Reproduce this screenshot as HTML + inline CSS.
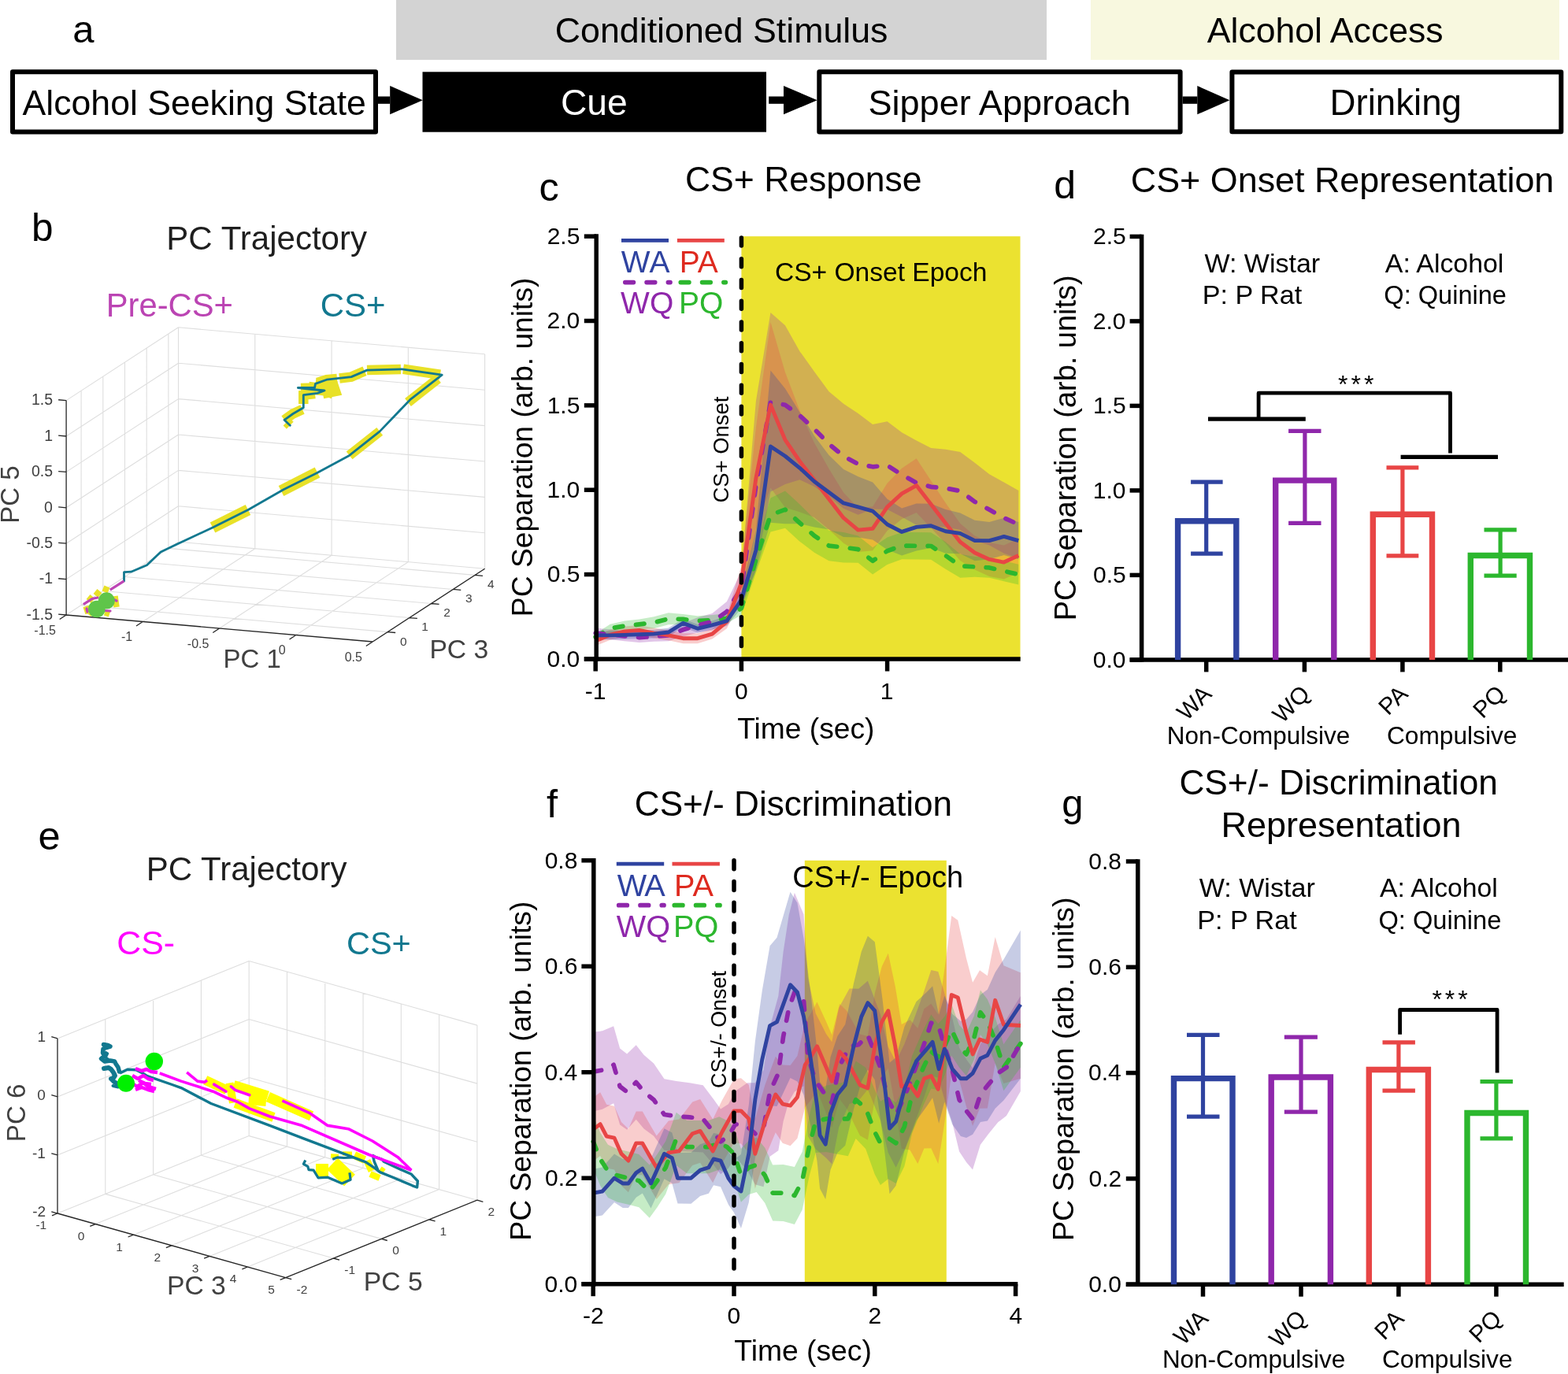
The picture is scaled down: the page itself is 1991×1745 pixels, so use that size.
<!DOCTYPE html>
<html><head><meta charset="utf-8"><title>Figure</title>
<style>html,body{margin:0;padding:0;background:#fff;overflow:hidden}svg{display:block}text{font-family:'Liberation Sans', Arial, Helvetica, sans-serif}</style>
</head><body>
<svg width="1991" height="1745" viewBox="0 0 1991 1745">
<rect width="1991" height="1745" fill="#fff"/>
<text x="92.34" y="54.3" font-size="49" fill="#000" >a</text>
<rect x="503" y="0" width="826" height="76" fill="#d3d3d3" />
<rect x="1385" y="0" width="595" height="76" fill="#f8f8df" />
<text x="704.76" y="54" font-size="44.74" fill="#000" >Conditioned Stimulus</text>
<text x="1532.8" y="54.2" font-size="44.57" fill="#000" >Alcohol Access</text>
<rect x="16" y="91.2" width="461" height="76.2" fill="#fff" stroke="#000" stroke-width="6" stroke-linejoin="round"/>
<text x="28.6" y="146" font-size="44.6" fill="#000" >Alcohol Seeking State</text>
<rect x="480" y="122.5" width="15.2" height="9.3" fill="#000" />
<polygon points="495.2,109.1 536.8,127.2 495.2,145.3" fill="#000" />
<rect x="536.5" y="91.3" width="436.5" height="76.4" fill="#000" />
<text x="711.89" y="145.7" font-size="46.21" fill="#fff" >Cue</text>
<rect x="976.2" y="122.5" width="18.8" height="9.3" fill="#000" />
<polygon points="995,109.1 1037.7,127.2 995,145.3" fill="#000" />
<rect x="1040.3" y="91.2" width="458.3" height="76.2" fill="#fff" stroke="#000" stroke-width="6" stroke-linejoin="round"/>
<text x="1102.47" y="145.7" font-size="45.09" fill="#000" >Sipper Approach</text>
<rect x="1501.6" y="122.5" width="18.7" height="9.3" fill="#000" />
<polygon points="1520.3,109.1 1561.4,127.2 1520.3,145.3" fill="#000" />
<rect x="1564.4" y="91.4" width="417.9" height="75.9" fill="#fff" stroke="#000" stroke-width="6" stroke-linejoin="round"/>
<text x="1688.55" y="145.7" font-size="45.65" fill="#000" >Drinking</text>
<rect x="941.4" y="300.15" width="354.1" height="536.75" fill="#ebe230" />
<path d="M756.2,797.61 L774.72,799.33 L793.24,801.47 L811.76,803.19 L830.28,801.9 L848.8,799.33 L867.32,791.17 L885.84,784.3 L904.36,778.93 L922.88,763.9 L941.4,725.26 L959.92,509.27 L978.44,396.98 L996.96,413.3 L1015.48,446.15 L1034,471.91 L1052.52,497.24 L1071.04,512.7 L1089.56,524.94 L1108.08,539.11 L1126.6,535.25 L1145.12,549.2 L1163.64,559.51 L1182.16,568.95 L1200.68,570.67 L1219.2,574.11 L1237.72,587.85 L1256.24,602.23 L1274.76,612.54 L1293.28,623.06 L1293.28,708.94 L1274.76,702.71 L1256.24,692.41 L1237.72,686.61 L1219.2,672.87 L1200.68,669.43 L1182.16,667.72 L1163.64,666.86 L1145.12,656.55 L1126.6,646.89 L1108.08,646.46 L1089.56,653.76 L1071.04,645.82 L1052.52,630.36 L1034,617.91 L1015.48,609.32 L996.96,615.11 L978.44,624.56 L959.92,723.97 L941.4,768.2 L922.88,789.67 L904.36,800.4 L885.84,803.62 L867.32,808.34 L848.8,814.36 L830.28,814.79 L811.76,816.07 L793.24,814.36 L774.72,812.21 L756.2,810.49 Z" fill="#8f27ab" fill-opacity="0.27"/>
<path d="M756.2,807.49 L774.72,799.76 L793.24,795.46 L811.76,793.96 L830.28,797.61 L848.8,800.4 L867.32,804.27 L885.84,804.27 L904.36,798.68 L922.88,781.08 L941.4,718.81 L959.92,542.76 L978.44,409 L996.96,472.77 L1015.48,521.51 L1034,562.51 L1052.52,595.15 L1071.04,625.42 L1089.56,645.17 L1108.08,643.46 L1126.6,613.83 L1145.12,594.72 L1163.64,582.27 L1182.16,610.39 L1200.68,638.73 L1219.2,664.71 L1237.72,680.6 L1256.24,688.97 L1274.76,692.62 L1293.28,684.03 L1293.28,726.97 L1274.76,735.56 L1256.24,731.91 L1237.72,723.54 L1219.2,711.94 L1200.68,690.26 L1182.16,670.51 L1163.64,650.97 L1145.12,659.13 L1126.6,673.94 L1108.08,699.28 L1089.56,700.99 L1071.04,689.83 L1052.52,672.44 L1034,656.98 L1015.48,650.33 L996.96,644.53 L978.44,619.41 L959.92,671.58 L941.4,761.75 L922.88,798.25 L904.36,811.57 L885.84,817.15 L867.32,817.15 L848.8,813.28 L830.28,810.49 L811.76,806.84 L793.24,808.34 L774.72,812.64 L756.2,820.37 Z" fill="#e84545" fill-opacity="0.27"/>
<path d="M756.2,801.47 L774.72,801.47 L793.24,801.05 L811.76,800.4 L830.28,799.76 L848.8,797.61 L867.32,786.02 L885.84,792.89 L904.36,788.59 L922.88,782.15 L941.4,751.02 L959.92,672.87 L978.44,470.41 L996.96,493.38 L1015.48,523.44 L1034,553.5 L1052.52,577.97 L1071.04,596.01 L1089.56,605.24 L1108.08,612.54 L1126.6,633.79 L1145.12,645.39 L1163.64,639.38 L1182.16,639.81 L1200.68,646.89 L1219.2,651.61 L1237.72,660.85 L1256.24,662.99 L1274.76,657.84 L1293.28,662.99 L1293.28,710.23 L1274.76,705.07 L1256.24,710.23 L1237.72,712.37 L1219.2,703.14 L1200.68,702.71 L1182.16,695.63 L1163.64,699.49 L1145.12,705.5 L1126.6,698.2 L1108.08,685.54 L1089.56,682.53 L1071.04,681.89 L1052.52,672.44 L1034,669.43 L1015.48,665.14 L996.96,665.14 L978.44,663.64 L959.92,724.4 L941.4,772.49 L922.88,795.03 L904.36,799.33 L885.84,803.62 L867.32,796.75 L848.8,808.34 L830.28,810.49 L811.76,811.14 L793.24,811.78 L774.72,812.21 L756.2,812.21 Z" fill="#2f43a0" fill-opacity="0.27"/>
<path d="M756.2,804.69 L774.72,792.67 L793.24,788.59 L811.76,786.45 L830.28,783.23 L848.8,778.29 L867.32,780 L885.84,782.15 L904.36,781.08 L922.88,778.93 L941.4,763.9 L959.92,693.05 L978.44,632.51 L996.96,623.49 L1015.48,640.45 L1034,658.91 L1052.52,673.73 L1071.04,675.88 L1089.56,680.38 L1108.08,695.2 L1126.6,682.53 L1145.12,675.88 L1163.64,676.09 L1182.16,676.3 L1200.68,688.33 L1219.2,703.79 L1237.72,707.01 L1256.24,708.08 L1274.76,712.37 L1293.28,716.67 L1293.28,742.43 L1274.76,738.14 L1256.24,733.84 L1237.72,732.77 L1219.2,733.84 L1200.68,722.68 L1182.16,710.66 L1163.64,710.44 L1145.12,710.23 L1126.6,716.88 L1108.08,729.55 L1089.56,714.74 L1071.04,714.52 L1052.52,712.37 L1034,701.85 L1015.48,687.68 L996.96,670.72 L978.44,675.45 L959.92,727.4 L941.4,781.08 L922.88,791.81 L904.36,793.96 L885.84,795.03 L867.32,792.89 L848.8,793.32 L830.28,798.25 L811.76,799.33 L793.24,801.47 L774.72,803.41 L756.2,813.28 Z" fill="#2cb72e" fill-opacity="0.27"/>
<polyline points="756.2,808.99 774.72,798.04 793.24,795.03 811.76,792.89 830.28,790.74 848.8,785.8 867.32,786.45 885.84,788.59 904.36,787.52 922.88,785.37 941.4,772.49 959.92,710.23 978.44,653.98 996.96,647.11 1015.48,664.07 1034,680.38 1052.52,693.05 1071.04,695.2 1089.56,697.56 1108.08,712.37 1126.6,699.71 1145.12,693.05 1163.64,693.27 1182.16,693.48 1200.68,705.5 1219.2,718.81 1237.72,719.89 1256.24,720.96 1274.76,725.26 1293.28,729.55" fill="none" stroke="#2cb72e" stroke-width="5.7" stroke-linejoin="round" stroke-dasharray="10.6 16.7" stroke-linecap="round"/>
<polyline points="756.2,804.05 774.72,805.77 793.24,807.92 811.76,809.63 830.28,808.34 848.8,806.84 867.32,799.76 885.84,793.96 904.36,789.67 922.88,776.78 941.4,746.73 959.92,616.62 978.44,510.77 996.96,514.21 1015.48,527.73 1034,544.91 1052.52,563.8 1071.04,579.26 1089.56,589.35 1108.08,592.79 1126.6,591.07 1145.12,602.88 1163.64,613.18 1182.16,618.34 1200.68,620.05 1219.2,623.49 1237.72,637.23 1256.24,647.32 1274.76,657.63 1293.28,666" fill="none" stroke="#8f27ab" stroke-width="5.7" stroke-linejoin="round" stroke-dasharray="10.6 16.7" stroke-linecap="round"/>
<polyline points="756.2,813.93 774.72,806.2 793.24,801.9 811.76,800.4 830.28,804.05 848.8,806.84 867.32,810.71 885.84,810.71 904.36,805.12 922.88,789.67 941.4,740.28 959.92,607.17 978.44,514.21 996.96,558.65 1015.48,585.92 1034,609.75 1052.52,633.79 1071.04,657.63 1089.56,673.08 1108.08,671.37 1126.6,643.88 1145.12,626.92 1163.64,616.62 1182.16,640.45 1200.68,664.5 1219.2,688.33 1237.72,702.07 1256.24,710.44 1274.76,714.09 1293.28,705.5" fill="none" stroke="#e84545" stroke-width="4.9" stroke-linejoin="round"/>
<polyline points="756.2,806.84 774.72,806.84 793.24,806.41 811.76,805.77 830.28,805.12 848.8,802.98 867.32,791.38 885.84,798.25 904.36,793.96 922.88,788.59 941.4,761.75 959.92,698.63 978.44,567.02 996.96,579.26 1015.48,594.29 1034,611.46 1052.52,625.21 1071.04,638.95 1089.56,643.88 1108.08,649.04 1126.6,666 1145.12,675.45 1163.64,669.43 1182.16,667.72 1200.68,674.8 1219.2,677.38 1237.72,686.61 1256.24,686.61 1274.76,681.46 1293.28,686.61" fill="none" stroke="#2f43a0" stroke-width="4.9" stroke-linejoin="round"/>
<line x1="941.4" y1="302.05" x2="941.4" y2="823" stroke="#000" stroke-width="5.5" stroke-dasharray="9.9 16.86" stroke-linecap="round"/>
<line x1="757.2" y1="297.3" x2="757.2" y2="839.6" stroke="#000" stroke-width="5.5" />
<line x1="741.8" y1="836.9" x2="1295.7" y2="836.9" stroke="#000" stroke-width="5.5" />
<line x1="741.8" y1="836.9" x2="757.2" y2="836.9" stroke="#000" stroke-width="5.5" />
<text x="694.55" y="846.7" font-size="30" fill="#000" >0.0</text>
<line x1="741.8" y1="729.55" x2="757.2" y2="729.55" stroke="#000" stroke-width="5.5" />
<text x="694.7" y="739.35" font-size="30" fill="#000" >0.5</text>
<line x1="741.8" y1="622.2" x2="757.2" y2="622.2" stroke="#000" stroke-width="5.5" />
<text x="694.55" y="632" font-size="30" fill="#000" >1.0</text>
<line x1="741.8" y1="514.85" x2="757.2" y2="514.85" stroke="#000" stroke-width="5.5" />
<text x="694.7" y="524.65" font-size="30" fill="#000" >1.5</text>
<line x1="741.8" y1="407.5" x2="757.2" y2="407.5" stroke="#000" stroke-width="5.5" />
<text x="694.55" y="417.3" font-size="30" fill="#000" >2.0</text>
<line x1="741.8" y1="300.15" x2="757.2" y2="300.15" stroke="#000" stroke-width="5.5" />
<text x="694.7" y="309.95" font-size="30" fill="#000" >2.5</text>
<line x1="756.2" y1="836.9" x2="756.2" y2="852.5" stroke="#000" stroke-width="5.5" />
<text x="742.85" y="888" font-size="30" fill="#000" >-1</text>
<line x1="941.4" y1="836.9" x2="941.4" y2="852.5" stroke="#000" stroke-width="5.5" />
<text x="933" y="888" font-size="30" fill="#000" >0</text>
<line x1="1126.6" y1="836.9" x2="1126.6" y2="852.5" stroke="#000" stroke-width="5.5" />
<text x="1117.82" y="888" font-size="30" fill="#000" >1</text>
<text x="936.26" y="937.5" font-size="37.17" fill="#000" >Time (sec)</text>
<text transform="translate(676,783.18) rotate(-90)" x="0" y="0" font-size="37.25" fill="#000">PC Separation (arb. units)</text>
<text transform="translate(925.2,638.47) rotate(-90)" x="0" y="0" font-size="27.41" fill="#000">CS+ Onset</text>
<text x="684.58" y="255" font-size="50.5" fill="#000" >c</text>
<text x="869.97" y="243" font-size="44.52" fill="#000" >CS+ Response</text>
<text x="983.92" y="356.7" font-size="33.57" fill="#000" >CS+ Onset Epoch</text>
<line x1="789" y1="305.4" x2="849" y2="305.4" stroke="#2f43a0" stroke-width="4.9" />
<line x1="859.9" y1="305.4" x2="919.8" y2="305.4" stroke="#e84545" stroke-width="4.9" />
<line x1="793.8" y1="358.6" x2="851" y2="358.6" stroke="#8f27ab" stroke-width="5.7" stroke-dasharray="10.6 16.7" stroke-linecap="round"/>
<line x1="864.3" y1="358.6" x2="921.3" y2="358.6" stroke="#2cb72e" stroke-width="5.7" stroke-dasharray="10.6 16.7" stroke-linecap="round"/>
<text x="862.78" y="345.8" font-size="38.98" fill="#de2a1f" >PA</text>
<text x="788.81" y="345.8" font-size="38.98" fill="#2f43a0" letter-spacing="0.49">WA</text>
<text x="788.11" y="398.1" font-size="38.98" fill="#8f27ab" >WQ</text>
<text x="862.08" y="398.1" font-size="38.98" fill="#2cb72e" >PQ</text>
<text x="1338.2" y="252.2" font-size="50" fill="#000" >d</text>
<text x="1435.76" y="243.9" font-size="44.88" fill="#000" >CS+ Onset Representation</text>
<line x1="1449.6" y1="297.7" x2="1449.6" y2="840.6" stroke="#000" stroke-width="5.5" />
<line x1="1434.6" y1="837.9" x2="1991" y2="837.9" stroke="#000" stroke-width="5.5" />
<line x1="1434.6" y1="837.9" x2="1449.6" y2="837.9" stroke="#000" stroke-width="5.5" />
<text x="1387.85" y="847.7" font-size="30" fill="#000" >0.0</text>
<line x1="1434.6" y1="730.4" x2="1449.6" y2="730.4" stroke="#000" stroke-width="5.5" />
<text x="1388" y="740.2" font-size="30" fill="#000" >0.5</text>
<line x1="1434.6" y1="622.9" x2="1449.6" y2="622.9" stroke="#000" stroke-width="5.5" />
<text x="1387.85" y="632.7" font-size="30" fill="#000" >1.0</text>
<line x1="1434.6" y1="515.4" x2="1449.6" y2="515.4" stroke="#000" stroke-width="5.5" />
<text x="1388" y="525.2" font-size="30" fill="#000" >1.5</text>
<line x1="1434.6" y1="407.9" x2="1449.6" y2="407.9" stroke="#000" stroke-width="5.5" />
<text x="1387.85" y="417.7" font-size="30" fill="#000" >2.0</text>
<line x1="1434.6" y1="300.4" x2="1449.6" y2="300.4" stroke="#000" stroke-width="5.5" />
<text x="1388" y="310.2" font-size="30" fill="#000" >2.5</text>
<line x1="1531.7" y1="837.9" x2="1531.7" y2="853.4" stroke="#000" stroke-width="5.5" />
<line x1="1656.4" y1="837.9" x2="1656.4" y2="853.4" stroke="#000" stroke-width="5.5" />
<line x1="1780.9" y1="837.9" x2="1780.9" y2="853.4" stroke="#000" stroke-width="5.5" />
<line x1="1904.8" y1="837.9" x2="1904.8" y2="853.4" stroke="#000" stroke-width="5.5" />
<path d="M1495.6,837.9 V661.7 H1569.8 V837.9" fill="none" stroke="#2f43a0" stroke-width="7.4" stroke-linejoin="miter"/>
<path d="M1619.7,837.9 V610.1 H1693.8 V837.9" fill="none" stroke="#8f27ab" stroke-width="7.4" stroke-linejoin="miter"/>
<path d="M1743.3,837.9 V653.2 H1818.5 V837.9" fill="none" stroke="#e84545" stroke-width="7.4" stroke-linejoin="miter"/>
<path d="M1867.3,837.9 V705.5 H1942.5 V837.9" fill="none" stroke="#2cb72e" stroke-width="7.4" stroke-linejoin="miter"/>
<line x1="1531.7" y1="612.1" x2="1531.7" y2="703.1" stroke="#2f43a0" stroke-width="5.2" />
<line x1="1512.1" y1="612.1" x2="1552.6" y2="612.1" stroke="#2f43a0" stroke-width="5.2" />
<line x1="1512.1" y1="703.1" x2="1552.6" y2="703.1" stroke="#2f43a0" stroke-width="5.2" />
<line x1="1656.9" y1="547.4" x2="1656.9" y2="664.4" stroke="#8f27ab" stroke-width="5.2" />
<line x1="1636.1" y1="547.4" x2="1677.5" y2="547.4" stroke="#8f27ab" stroke-width="5.2" />
<line x1="1636.1" y1="664.4" x2="1677.5" y2="664.4" stroke="#8f27ab" stroke-width="5.2" />
<line x1="1780.9" y1="593.9" x2="1780.9" y2="705.8" stroke="#e84545" stroke-width="5.2" />
<line x1="1760.5" y1="593.9" x2="1801.3" y2="593.9" stroke="#e84545" stroke-width="5.2" />
<line x1="1760.5" y1="705.8" x2="1801.3" y2="705.8" stroke="#e84545" stroke-width="5.2" />
<line x1="1905.1" y1="672.8" x2="1905.1" y2="731.1" stroke="#2cb72e" stroke-width="5.2" />
<line x1="1884.5" y1="672.8" x2="1925.7" y2="672.8" stroke="#2cb72e" stroke-width="5.2" />
<line x1="1884.5" y1="731.1" x2="1925.7" y2="731.1" stroke="#2cb72e" stroke-width="5.2" />
<text transform="translate(1540.2,883.1) rotate(-45)" x="0" y="0" font-size="30" text-anchor="end">WA</text>
<text transform="translate(1664.9,883.1) rotate(-45)" x="0" y="0" font-size="30" text-anchor="end">WQ</text>
<text transform="translate(1789.4,883.1) rotate(-45)" x="0" y="0" font-size="30" text-anchor="end">PA</text>
<text transform="translate(1913.3,883.1) rotate(-45)" x="0" y="0" font-size="30" text-anchor="end">PQ</text>
<path d="M1598.1,530 V499.2 H1841.5 V575.5" fill="none" stroke="#000" stroke-width="4.8" stroke-linejoin="round"/>
<line x1="1534" y1="532.2" x2="1657.8" y2="532.2" stroke="#000" stroke-width="5.2" />
<line x1="1778.6" y1="580.4" x2="1902" y2="580.4" stroke="#000" stroke-width="5.2" />
<text x="1699.02" y="499" font-size="32" letter-spacing="4">***</text>
<text x="1529.43" y="345.7" font-size="34.03" fill="#000" >W: Wistar</text>
<text x="1526.87" y="385.5" font-size="34.09" fill="#000" >P: P Rat</text>
<text x="1758.8" y="345.7" font-size="33.86" fill="#000" >A: Alcohol</text>
<text x="1757.33" y="385.5" font-size="32.56" fill="#000" >Q: Quinine</text>
<text x="1481.78" y="944.6" font-size="31.44" fill="#000" >Non-Compulsive</text>
<text x="1760.92" y="944.6" font-size="31.68" fill="#000" >Compulsive</text>
<text transform="translate(1366.4,788.24) rotate(-90)" x="0" y="0" font-size="37.98" fill="#000">PC Separation (arb. units)</text>
<rect x="1021.8" y="1092.78" width="180" height="537.92" fill="#ebe230" />
<path d="M753.2,1310.64 L764.82,1309.28 L779.13,1303.36 L787.17,1331.38 L796.11,1338.61 L807.73,1327.16 L817.57,1339.82 L830.08,1350.61 L843.49,1370.2 L858.69,1373.07 L875.68,1375.37 L892.66,1378.35 L906.07,1395.91 L915.01,1408.52 L924.85,1402.35 L933.79,1385.68 L948.99,1375.32 L958.82,1375.19 L969.55,1358.78 L977.59,1304.59 L988.32,1264.91 L994.58,1209.11 L1001.73,1162.04 L1008.88,1133.8 L1020.51,1161.36 L1025.87,1241.38 L1035.7,1287.1 L1049.11,1313.16 L1056.27,1323.25 L1065.21,1279.88 L1078.62,1255.5 L1090.24,1255.67 L1101.86,1245.75 L1117.95,1288.45 L1127.79,1329.46 L1137.62,1348.29 L1148.35,1326.1 L1159.97,1295.84 L1172.49,1261.55 L1182.32,1231.97 L1191.26,1233.98 L1199.31,1261.55 L1209.14,1292.48 L1218.08,1330.81 L1227.02,1345.6 L1235.07,1356.29 L1244.9,1326.1 L1255.63,1313.46 L1267.25,1300.89 L1277.98,1294.3 L1295.86,1264.91 L1295.86,1385.95 L1277.98,1417.08 L1267.25,1425.28 L1255.63,1439.6 L1244.9,1453.86 L1235.07,1485.53 L1227.02,1476.05 L1218.08,1462.6 L1209.14,1425.62 L1199.31,1396.03 L1191.26,1368.46 L1182.32,1366.45 L1172.49,1396.03 L1159.97,1430.32 L1148.35,1460.58 L1137.62,1482.77 L1127.79,1463.94 L1117.95,1422.93 L1101.86,1383.59 L1090.24,1397.88 L1078.62,1402.08 L1065.21,1431.5 L1056.27,1478.23 L1049.11,1470.84 L1035.7,1459.24 L1025.87,1443.1 L1020.51,1379.22 L1008.88,1386.62 L1001.73,1398.72 L994.58,1424.27 L988.32,1461.26 L977.59,1468.65 L969.55,1507.25 L958.82,1504.29 L948.99,1486.67 L933.79,1469.59 L924.85,1483.85 L915.01,1491.13 L906.07,1479.53 L892.66,1463.47 L875.68,1462.42 L858.69,1462.03 L843.49,1460.87 L830.08,1442.8 L817.57,1433.42 L807.73,1421.87 L796.11,1434.63 L787.17,1428.41 L779.13,1401.29 L764.82,1408.82 L753.2,1411.5 Z" fill="#8f27ab" fill-opacity="0.27"/>
<path d="M753.2,1394.02 L762.14,1387.29 L770.19,1402.76 L780.02,1404.77 L788.96,1424.95 L797.9,1433.69 L807.73,1411.5 L815.78,1411.5 L826.51,1430.32 L833.66,1442.43 L848.86,1423.6 L862.27,1421.58 L879.25,1399.39 L889.09,1396.03 L905.18,1421.58 L916.8,1397.38 L932,1370.48 L940.94,1369.14 L950.77,1377.74 L958.82,1420.91 L971.34,1378.01 L984.75,1341.7 L993.69,1352.46 L1003.52,1353 L1012.46,1340.9 L1022.29,1298.4 L1029.45,1287.24 L1037.49,1272.58 L1049.11,1297.73 L1056.27,1314.13 L1066.1,1275 L1075.04,1283.74 L1083.98,1299.88 L1092.03,1313.46 L1101.86,1316.02 L1110.8,1261.55 L1119.74,1227.57 L1127.79,1210.69 L1136.73,1252.69 L1144.77,1301.04 L1155.5,1295.36 L1165.33,1306.11 L1173.38,1281.17 L1182.32,1274.76 L1191.26,1288.51 L1199.31,1231.29 L1208.25,1163.02 L1216.29,1168.76 L1227.02,1217.17 L1235.07,1247.77 L1244.01,1232.3 L1253.84,1239.36 L1263.67,1190.05 L1274.4,1226.36 L1295.86,1235.33 L1295.86,1369.81 L1274.4,1376.08 L1263.67,1350.53 L1253.84,1407.46 L1244.01,1407.8 L1235.07,1429.99 L1227.02,1405.45 L1216.29,1365.1 L1208.25,1364.12 L1199.31,1426.29 L1191.26,1478 L1182.32,1458.14 L1173.38,1458.44 L1165.33,1477.88 L1155.5,1460.4 L1144.77,1458.75 L1136.73,1404.9 L1127.79,1356.79 L1119.74,1368.16 L1110.8,1396.03 L1101.86,1447.81 L1092.03,1442.29 L1083.98,1426.29 L1075.04,1407.46 L1066.1,1396.03 L1056.27,1432.21 L1049.11,1413.65 L1037.49,1385.01 L1029.45,1397.24 L1022.29,1406.25 L1012.46,1445.79 L1003.52,1455.2 L993.69,1451.71 L984.75,1438.26 L971.34,1470.53 L958.82,1509.67 L950.77,1464.08 L940.94,1452.51 L932,1451.17 L916.8,1478.07 L905.18,1502.27 L889.09,1476.72 L879.25,1480.08 L862.27,1502.27 L848.86,1504.29 L833.66,1523.12 L826.51,1511.01 L815.78,1492.19 L807.73,1492.19 L797.9,1514.37 L788.96,1505.63 L780.02,1485.46 L770.19,1483.44 L762.14,1467.98 L753.2,1474.7 Z" fill="#e84545" fill-opacity="0.27"/>
<path d="M753.2,1484.79 L764.82,1482.55 L780.02,1465.46 L790.75,1471.98 L797.9,1471.85 L807.73,1458.21 L815.78,1452.68 L826.51,1471.31 L843.49,1433.33 L853.33,1438.53 L860.48,1463.94 L877.47,1463.63 L889.09,1453.32 L899.82,1449.76 L906.07,1438.88 L915.01,1440.73 L924.85,1462.73 L932,1472.69 L940.94,1465.96 L950.77,1403.43 L958.82,1322.74 L967.76,1258.19 L977.59,1201.13 L986.53,1190.66 L994.58,1163.29 L1003.52,1132.64 L1012.46,1146.86 L1020.51,1191.62 L1029.45,1261.46 L1037.49,1333.79 L1041.07,1374.01 L1048.22,1383.42 L1054.48,1342.66 L1063.42,1315.93 L1073.25,1301.06 L1083.98,1248.94 L1093.81,1208.52 L1101.86,1188.77 L1110.8,1196.33 L1120.63,1269.82 L1129.57,1349.84 L1137.62,1342.91 L1148.35,1304.32 L1163.55,1272.11 L1176.96,1259.67 L1184.11,1252.54 L1192.15,1288.65 L1199.31,1264.71 L1209.14,1287.78 L1219.87,1296.65 L1227.02,1294.5 L1235.07,1285.36 L1244.9,1263.57 L1253.84,1256.85 L1263.67,1235.06 L1274.4,1218.38 L1295.86,1181.54 L1295.86,1369.81 L1274.4,1397.51 L1263.67,1407.73 L1253.84,1423.6 L1244.9,1424.95 L1235.07,1440.81 L1227.02,1445.12 L1219.87,1442.97 L1209.14,1427.64 L1199.31,1399.6 L1192.15,1426.76 L1184.11,1394.28 L1176.96,1404.64 L1163.55,1423.13 L1148.35,1462.2 L1137.62,1505.63 L1129.57,1516.19 L1120.63,1440.21 L1110.8,1371.15 L1101.86,1358.55 L1093.81,1373.76 L1083.98,1408.64 L1073.25,1454.7 L1063.42,1464.03 L1054.48,1485.71 L1048.22,1522.95 L1041.07,1509.5 L1037.49,1474.42 L1029.45,1429.75 L1020.51,1390.65 L1012.46,1373.56 L1003.52,1368.94 L994.58,1388.06 L986.53,1405.06 L977.59,1404.01 L967.76,1433.01 L958.82,1470.67 L950.77,1527.15 L940.94,1560.1 L932,1539.93 L924.85,1529.71 L915.01,1507.33 L906.07,1505.15 L899.82,1515.79 L889.09,1518.95 L877.47,1528.81 L860.48,1528.5 L853.33,1502.81 L843.49,1497.25 L826.51,1534.58 L815.78,1515.55 L807.73,1520.78 L797.9,1534.04 L790.75,1533.91 L780.02,1526.98 L764.82,1543.51 L753.2,1545.31 Z" fill="#2f43a0" fill-opacity="0.27"/>
<path d="M753.2,1416.2 L762.14,1438.39 L771.97,1453.86 L783.6,1459.24 L797.9,1462.6 L811.31,1465.96 L824.72,1479.41 L834.55,1465.96 L845.28,1449.15 L858.69,1412.84 L872.1,1422.93 L886.41,1422.93 L899.82,1422.93 L913.23,1418.22 L923.06,1422.93 L932,1431.67 L940.94,1458.9 L950.77,1448.45 L960.61,1444.71 L971.34,1457.76 L981.17,1479.58 L994.58,1479.07 L1008.88,1481.9 L1018.72,1462.7 L1027.66,1417.04 L1035.7,1384.6 L1049.11,1378.72 L1063.42,1376.03 L1076.83,1373.51 L1086.66,1347.45 L1099.18,1355.86 L1110.8,1383.93 L1117.95,1398.72 L1127.79,1392.92 L1137.62,1400.57 L1148.35,1380.74 L1158.18,1340.64 L1172.49,1307.7 L1182.32,1288.45 L1191.26,1300.22 L1199.31,1291.31 L1208.25,1275.5 L1218.08,1301.9 L1227.02,1311.56 L1236.85,1290.26 L1244.9,1257.6 L1253.84,1269.29 L1263.67,1292.36 L1274.4,1326.14 L1295.86,1295.17 L1295.86,1355.69 L1274.4,1385.23 L1263.67,1350.44 L1253.84,1326.44 L1244.9,1313.92 L1236.85,1345.81 L1227.02,1366.19 L1218.08,1355.69 L1208.25,1340.39 L1199.31,1366.28 L1191.26,1384.27 L1182.32,1382.58 L1172.49,1403.68 L1158.18,1439.32 L1148.35,1481.26 L1137.62,1503.11 L1127.79,1497.31 L1117.95,1504.96 L1110.8,1491.51 L1099.18,1459.07 L1086.66,1445.96 L1076.83,1468.32 L1063.42,1465.79 L1049.11,1463.1 L1035.7,1463.94 L1027.66,1493.36 L1018.72,1536.46 L1008.88,1554.92 L994.58,1551.02 L981.17,1550.52 L971.34,1527.96 L960.61,1514.11 L950.77,1517.1 L940.94,1526.81 L932,1498.91 L923.06,1490.17 L913.23,1485.46 L899.82,1490.17 L886.41,1490.17 L872.1,1490.17 L858.69,1480.08 L845.28,1516.39 L834.55,1533.2 L824.72,1546.65 L811.31,1533.2 L797.9,1529.84 L783.6,1526.48 L771.97,1521.1 L762.14,1505.63 L753.2,1483.44 Z" fill="#2cb72e" fill-opacity="0.27"/>
<polyline points="753.2,1449.82 762.14,1472.01 771.97,1487.48 783.6,1492.86 797.9,1496.22 811.31,1499.58 824.72,1513.03 834.55,1499.58 845.28,1482.77 858.69,1446.46 872.1,1456.55 886.41,1456.55 899.82,1456.55 913.23,1451.84 923.06,1456.55 932,1465.29 940.94,1492.86 950.77,1482.77 960.61,1479.41 971.34,1492.86 981.17,1515.05 994.58,1515.05 1008.88,1518.41 1018.72,1499.58 1027.66,1455.2 1035.7,1424.27 1049.11,1420.91 1063.42,1420.91 1076.83,1420.91 1086.66,1396.7 1099.18,1407.46 1110.8,1437.72 1117.95,1451.84 1127.79,1445.12 1137.62,1451.84 1148.35,1431 1158.18,1389.98 1172.49,1355.69 1182.32,1335.52 1191.26,1342.24 1199.31,1328.79 1208.25,1307.95 1218.08,1328.79 1227.02,1338.88 1236.85,1318.03 1244.9,1285.76 1253.84,1297.86 1263.67,1321.4 1274.4,1355.69 1295.86,1325.43" fill="none" stroke="#2cb72e" stroke-width="5.7" stroke-linejoin="round" stroke-dasharray="10.6 16.7" stroke-linecap="round"/>
<polyline points="753.2,1361.07 764.82,1359.05 779.13,1352.33 787.17,1379.89 796.11,1386.62 807.73,1374.52 817.57,1386.62 830.08,1396.7 843.49,1415.53 858.69,1417.55 875.68,1418.89 892.66,1420.91 906.07,1437.72 915.01,1449.82 924.85,1443.1 933.79,1427.64 948.99,1431 958.82,1439.74 969.55,1433.01 977.59,1386.62 988.32,1363.08 994.58,1316.69 1001.73,1280.38 1008.88,1260.21 1020.51,1270.29 1025.87,1342.24 1035.7,1373.17 1049.11,1392 1056.27,1400.74 1065.21,1355.69 1078.62,1328.79 1090.24,1326.78 1101.86,1314.67 1117.95,1355.69 1127.79,1396.7 1137.62,1415.53 1148.35,1393.34 1159.97,1363.08 1172.49,1328.79 1182.32,1299.21 1191.26,1301.22 1199.31,1328.79 1209.14,1359.05 1218.08,1396.7 1227.02,1410.83 1235.07,1420.91 1244.9,1389.98 1255.63,1376.53 1267.25,1363.08 1277.98,1355.69 1295.86,1325.43" fill="none" stroke="#8f27ab" stroke-width="5.7" stroke-linejoin="round" stroke-dasharray="10.6 16.7" stroke-linecap="round"/>
<polyline points="753.2,1434.36 762.14,1427.64 770.19,1443.1 780.02,1445.12 788.96,1465.29 797.9,1474.03 807.73,1451.84 815.78,1451.84 826.51,1470.67 833.66,1482.77 848.86,1463.94 862.27,1461.93 879.25,1439.74 889.09,1436.38 905.18,1461.93 916.8,1437.72 932,1410.83 940.94,1410.83 950.77,1420.91 958.82,1465.29 971.34,1424.27 984.75,1389.98 993.69,1402.08 1003.52,1404.1 1012.46,1393.34 1022.29,1352.33 1029.45,1342.24 1037.49,1328.79 1049.11,1355.69 1056.27,1373.17 1066.1,1335.52 1075.04,1345.6 1083.98,1363.08 1092.03,1377.88 1101.86,1381.91 1110.8,1328.79 1119.74,1297.86 1127.79,1283.74 1136.73,1328.79 1144.77,1379.89 1155.5,1377.88 1165.33,1392 1173.38,1369.81 1182.32,1366.45 1191.26,1383.26 1199.31,1328.79 1208.25,1263.57 1216.29,1266.93 1227.02,1311.31 1235.07,1338.88 1244.01,1320.05 1253.84,1323.41 1263.67,1270.29 1274.4,1301.22 1295.86,1302.57" fill="none" stroke="#e84545" stroke-width="4.9" stroke-linejoin="round"/>
<polyline points="753.2,1515.05 764.82,1513.03 780.02,1496.22 790.75,1502.94 797.9,1502.94 807.73,1489.5 815.78,1484.12 826.51,1502.94 843.49,1465.29 853.33,1470.67 860.48,1496.22 877.47,1496.22 889.09,1486.13 899.82,1482.77 906.07,1472.01 915.01,1474.03 924.85,1496.22 932,1506.31 940.94,1513.03 950.77,1465.29 958.82,1396.7 967.76,1345.6 977.59,1302.57 986.53,1297.86 994.58,1275.67 1003.52,1250.79 1012.46,1260.21 1020.51,1291.14 1029.45,1345.6 1037.49,1404.1 1041.07,1441.76 1048.22,1453.19 1054.48,1414.19 1063.42,1389.98 1073.25,1377.88 1083.98,1328.79 1093.81,1291.14 1101.86,1273.66 1110.8,1283.74 1120.63,1355.02 1129.57,1433.01 1137.62,1424.27 1148.35,1383.26 1163.55,1347.62 1176.96,1332.15 1184.11,1323.41 1192.15,1357.71 1199.31,1332.15 1209.14,1357.71 1219.87,1369.81 1227.02,1369.81 1235.07,1363.08 1244.9,1344.26 1253.84,1340.22 1263.67,1321.4 1274.4,1307.95 1295.86,1275.67" fill="none" stroke="#2f43a0" stroke-width="4.9" stroke-linejoin="round"/>
<line x1="932" y1="1092.75" x2="932" y2="1625" stroke="#000" stroke-width="5.5" stroke-dasharray="11 15.7" stroke-linecap="round"/>
<line x1="753.8" y1="1090.08" x2="753.8" y2="1633.4" stroke="#000" stroke-width="5.5" />
<line x1="738.4" y1="1630.7" x2="1292.3" y2="1630.7" stroke="#000" stroke-width="5.5" />
<line x1="738.4" y1="1630.7" x2="753.8" y2="1630.7" stroke="#000" stroke-width="5.5" />
<text x="691.55" y="1640.5" font-size="30" fill="#000" >0.0</text>
<line x1="738.4" y1="1496.22" x2="753.8" y2="1496.22" stroke="#000" stroke-width="5.5" />
<text x="692" y="1506.02" font-size="30" fill="#000" >0.2</text>
<line x1="738.4" y1="1361.74" x2="753.8" y2="1361.74" stroke="#000" stroke-width="5.5" />
<text x="691.4" y="1371.54" font-size="30" fill="#000" >0.4</text>
<line x1="738.4" y1="1227.26" x2="753.8" y2="1227.26" stroke="#000" stroke-width="5.5" />
<text x="691.7" y="1237.06" font-size="30" fill="#000" >0.6</text>
<line x1="738.4" y1="1092.78" x2="753.8" y2="1092.78" stroke="#000" stroke-width="5.5" />
<text x="691.7" y="1102.58" font-size="30" fill="#000" >0.8</text>
<line x1="753.2" y1="1630.7" x2="753.2" y2="1646.2" stroke="#000" stroke-width="5.5" />
<text x="739.93" y="1680.8" font-size="30" fill="#000" >-2</text>
<line x1="932" y1="1630.7" x2="932" y2="1646.2" stroke="#000" stroke-width="5.5" />
<text x="923.6" y="1680.8" font-size="30" fill="#000" >0</text>
<line x1="1110.8" y1="1630.7" x2="1110.8" y2="1646.2" stroke="#000" stroke-width="5.5" />
<text x="1102.47" y="1680.8" font-size="30" fill="#000" >2</text>
<line x1="1289.6" y1="1630.7" x2="1289.6" y2="1646.2" stroke="#000" stroke-width="5.5" />
<text x="1281.42" y="1680.8" font-size="30" fill="#000" >4</text>
<text x="932.25" y="1727.9" font-size="37.28" fill="#000" >Time (sec)</text>
<text x="694.04" y="1037.8" font-size="50.5" fill="#000" >f</text>
<text x="805.79" y="1036.4" font-size="44.13" fill="#000" >CS+/- Discrimination</text>
<text x="1006.3" y="1126.9" font-size="38.06" fill="#000" >CS+/- Epoch</text>
<line x1="782.8" y1="1097.1" x2="843.2" y2="1097.1" stroke="#2f43a0" stroke-width="4.9" />
<line x1="853.5" y1="1097.1" x2="913.9" y2="1097.1" stroke="#e84545" stroke-width="4.9" />
<line x1="785.7" y1="1149.7" x2="843" y2="1149.7" stroke="#8f27ab" stroke-width="5.7" stroke-dasharray="10.6 16.7" stroke-linecap="round"/>
<line x1="856.3" y1="1149.7" x2="914" y2="1149.7" stroke="#2cb72e" stroke-width="5.7" stroke-dasharray="10.6 16.7" stroke-linecap="round"/>
<text x="855.93" y="1137.8" font-size="39.66" fill="#de2a1f" >PA</text>
<text x="783.8" y="1137.8" font-size="39.66" fill="#2f43a0" letter-spacing="-1.57">WA</text>
<text x="782.8" y="1189.7" font-size="39.66" fill="#8f27ab" >WQ</text>
<text x="855.03" y="1189.7" font-size="39.66" fill="#2cb72e" >PQ</text>
<text transform="translate(673.5,1575.68) rotate(-90)" x="0" y="0" font-size="37.29" fill="#000">PC Separation (arb. units)</text>
<text transform="translate(921.5,1382.05) rotate(-90)" x="0" y="0" font-size="26.98" fill="#000">CS+/- Onset</text>
<text x="1348.34" y="1036.5" font-size="49" fill="#000" >g</text>
<text x="1497.39" y="1009.3" font-size="44.25" fill="#000" >CS+/- Discrimination</text>
<text x="1550.6" y="1062.8" font-size="44.96" fill="#000" >Representation</text>
<line x1="1444.8" y1="1091.3" x2="1444.8" y2="1633.9" stroke="#000" stroke-width="5.5" />
<line x1="1429.8" y1="1631.2" x2="1985.7" y2="1631.2" stroke="#000" stroke-width="5.5" />
<line x1="1429.8" y1="1631.2" x2="1444.8" y2="1631.2" stroke="#000" stroke-width="5.5" />
<text x="1382.15" y="1641" font-size="30" fill="#000" >0.0</text>
<line x1="1429.8" y1="1496.9" x2="1444.8" y2="1496.9" stroke="#000" stroke-width="5.5" />
<text x="1382.6" y="1506.7" font-size="30" fill="#000" >0.2</text>
<line x1="1429.8" y1="1362.6" x2="1444.8" y2="1362.6" stroke="#000" stroke-width="5.5" />
<text x="1382" y="1372.4" font-size="30" fill="#000" >0.4</text>
<line x1="1429.8" y1="1228.3" x2="1444.8" y2="1228.3" stroke="#000" stroke-width="5.5" />
<text x="1382.3" y="1238.1" font-size="30" fill="#000" >0.6</text>
<line x1="1429.8" y1="1094" x2="1444.8" y2="1094" stroke="#000" stroke-width="5.5" />
<text x="1382.3" y="1103.8" font-size="30" fill="#000" >0.8</text>
<line x1="1527.5" y1="1631.2" x2="1527.5" y2="1646.7" stroke="#000" stroke-width="5.5" />
<line x1="1652" y1="1631.2" x2="1652" y2="1646.7" stroke="#000" stroke-width="5.5" />
<line x1="1775.9" y1="1631.2" x2="1775.9" y2="1646.7" stroke="#000" stroke-width="5.5" />
<line x1="1899.9" y1="1631.2" x2="1899.9" y2="1646.7" stroke="#000" stroke-width="5.5" />
<path d="M1490.5,1631.2 V1369.6 H1565 V1631.2" fill="none" stroke="#2f43a0" stroke-width="7.4" stroke-linejoin="miter"/>
<path d="M1614.2,1631.2 V1368 H1689.4 V1631.2" fill="none" stroke="#8f27ab" stroke-width="7.4" stroke-linejoin="miter"/>
<path d="M1738.3,1631.2 V1358.5 H1813.4 V1631.2" fill="none" stroke="#e84545" stroke-width="7.4" stroke-linejoin="miter"/>
<path d="M1863,1631.2 V1413.5 H1937.5 V1631.2" fill="none" stroke="#2cb72e" stroke-width="7.4" stroke-linejoin="miter"/>
<line x1="1527.5" y1="1314.4" x2="1527.5" y2="1418.2" stroke="#2f43a0" stroke-width="5.2" />
<line x1="1507" y1="1314.4" x2="1548.5" y2="1314.4" stroke="#2f43a0" stroke-width="5.2" />
<line x1="1507" y1="1418.2" x2="1548.5" y2="1418.2" stroke="#2f43a0" stroke-width="5.2" />
<line x1="1652" y1="1317.1" x2="1652" y2="1412.1" stroke="#8f27ab" stroke-width="5.2" />
<line x1="1630.8" y1="1317.1" x2="1672.9" y2="1317.1" stroke="#8f27ab" stroke-width="5.2" />
<line x1="1630.8" y1="1412.1" x2="1672.9" y2="1412.1" stroke="#8f27ab" stroke-width="5.2" />
<line x1="1775.9" y1="1323.8" x2="1775.9" y2="1385.2" stroke="#e84545" stroke-width="5.2" />
<line x1="1755.5" y1="1323.8" x2="1796.9" y2="1323.8" stroke="#e84545" stroke-width="5.2" />
<line x1="1755.5" y1="1385.2" x2="1796.9" y2="1385.2" stroke="#e84545" stroke-width="5.2" />
<line x1="1899.9" y1="1373.7" x2="1899.9" y2="1445.8" stroke="#2cb72e" stroke-width="5.2" />
<line x1="1879.5" y1="1373.7" x2="1920.9" y2="1373.7" stroke="#2cb72e" stroke-width="5.2" />
<line x1="1879.5" y1="1445.8" x2="1920.9" y2="1445.8" stroke="#2cb72e" stroke-width="5.2" />
<text transform="translate(1536,1676.4) rotate(-45)" x="0" y="0" font-size="30" text-anchor="end">WA</text>
<text transform="translate(1660.5,1676.4) rotate(-45)" x="0" y="0" font-size="30" text-anchor="end">WQ</text>
<text transform="translate(1784.4,1676.4) rotate(-45)" x="0" y="0" font-size="30" text-anchor="end">PA</text>
<text transform="translate(1908.4,1676.4) rotate(-45)" x="0" y="0" font-size="30" text-anchor="end">PQ</text>
<path d="M1777.6,1313.7 V1282.5 H1901.1 V1362.6" fill="none" stroke="#000" stroke-width="4.8" stroke-linejoin="round"/>
<text x="1818.42" y="1279.9" font-size="32" letter-spacing="4">***</text>
<text x="1522.73" y="1139.4" font-size="34.08" fill="#000" >W: Wistar</text>
<text x="1520.17" y="1179.5" font-size="34.14" fill="#000" >P: P Rat</text>
<text x="1751.9" y="1139.4" font-size="33.72" fill="#000" >A: Alcohol</text>
<text x="1750.43" y="1179.5" font-size="32.64" fill="#000" >Q: Quinine</text>
<text x="1475.88" y="1736.7" font-size="31.45" fill="#000" >Non-Compulsive</text>
<text x="1754.91" y="1736.7" font-size="31.73" fill="#000" >Compulsive</text>
<text transform="translate(1362.7,1576.12) rotate(-90)" x="0" y="0" font-size="37.77" fill="#000">PC Separation (arb. units)</text>
<path d="M226.51,688.2 L226.51,415.8 M323.78,696.7 L323.78,424.3 M421.06,705.2 L421.06,432.8 M518.33,713.7 L518.33,441.3 M615.61,722.2 L615.61,449.8 M226.51,688.2 L615.61,722.2 M226.51,642.8 L615.61,676.8 M226.51,597.4 L615.61,631.4 M226.51,552 L615.61,586 M226.51,506.6 L615.61,540.6 M226.51,461.2 L615.61,495.2 M226.51,415.8 L615.61,449.8 M103.1,768.62 L103.1,496.22 M130.8,750.57 L130.8,478.17 M158.5,732.52 L158.5,460.12 M186.2,714.47 L186.2,442.07 M213.9,696.42 L213.9,424.02 M84.1,781 L226.51,688.2 M84.1,735.6 L226.51,642.8 M84.1,690.2 L226.51,597.4 M84.1,644.8 L226.51,552 M84.1,599.4 L226.51,506.6 M84.1,554 L226.51,461.2 M84.1,508.6 L226.51,415.8 M103.1,768.62 L492.2,802.62 M130.8,750.57 L519.9,784.57 M158.5,732.52 L547.6,766.52 M186.2,714.47 L575.3,748.47 M213.9,696.42 L603,730.42 M181.38,789.5 L323.78,696.7 M278.65,798 L421.06,705.2 M375.93,806.5 L518.33,713.7 M473.2,815 L615.61,722.2" stroke="#dedede" stroke-width="1.1" fill="none"/>
<path d="M84.1,781 L84.1,508.6 M84.1,781 L473.2,815 M473.2,815 L615.61,722.2 M84.1,781 L74.14,780.13 M84.1,735.6 L74.14,734.73 M84.1,690.2 L74.14,689.33 M84.1,644.8 L74.14,643.93 M84.1,599.4 L74.14,598.53 M84.1,554 L74.14,553.13 M84.1,508.6 L74.14,507.73 M84.1,781 L75.7,786.5 M181.38,789.5 L172.97,795 M278.65,798 L270.25,803.5 M375.93,806.5 L367.53,812 M473.2,815 L464.8,820.5 M492.2,802.62 L502.16,803.49 M519.9,784.57 L529.86,785.44 M547.6,766.52 L557.56,767.39 M575.3,748.47 L585.26,749.34 M603,730.42 L612.96,731.29" stroke="#262626" stroke-width="1.3" fill="none"/>
<text x="33.44" y="786.7" font-size="19.5" fill="#404040" >-1.5</text>
<text x="49.72" y="741.3" font-size="19.5" fill="#404040" >-1</text>
<text x="33.44" y="695.9" font-size="19.5" fill="#404040" >-0.5</text>
<text x="56.06" y="650.5" font-size="19.5" fill="#404040" >0</text>
<text x="39.88" y="605.1" font-size="19.5" fill="#404040" >0.5</text>
<text x="56.26" y="559.7" font-size="19.5" fill="#404040" >1</text>
<text x="39.88" y="514.3" font-size="19.5" fill="#404040" >1.5</text>
<text x="43.32" y="805.5" font-size="16" fill="#404040" >-1.5</text>
<text x="153.95" y="814" font-size="16" fill="#404040" >-1</text>
<text x="237.87" y="822.5" font-size="16" fill="#404040" >-0.5</text>
<text x="353.71" y="831" font-size="16" fill="#404040" >0</text>
<text x="437.7" y="839.5" font-size="16" fill="#404040" >0.5</text>
<text x="507.98" y="819.52" font-size="15.5" fill="#404040" >0</text>
<text x="535.14" y="801.47" font-size="15.5" fill="#404040" >1</text>
<text x="563.23" y="783.42" font-size="15.5" fill="#404040" >2</text>
<text x="591.08" y="765.37" font-size="15.5" fill="#404040" >3</text>
<text x="619.09" y="747.32" font-size="15.5" fill="#404040" >4</text>
<text x="283.46" y="848.4" font-size="32.98" fill="#404040" >PC 1</text>
<text x="545.41" y="835.6" font-size="33.67" fill="#404040" >PC 3</text>
<text transform="translate(24.3,664.63) rotate(-90)" x="0" y="0" font-size="32.9" fill="#404040">PC 5</text>
<text x="39.98" y="305.6" font-size="49.5" fill="#000" >b</text>
<text x="211.34" y="317.4" font-size="42.06" fill="#1e1e1e" >PC Trajectory</text>
<text x="134.66" y="402" font-size="41.77" fill="#bb44b3" >Pre-CS+</text>
<text x="406.8" y="402" font-size="41.97" fill="#12788f" >CS+</text>
<polyline points="270,670 315,647.5" fill="none" stroke="#e8e128" stroke-width="14.5" stroke-linejoin="miter"/>
<polyline points="357,623.5 403,600" fill="none" stroke="#e8e128" stroke-width="14.5" stroke-linejoin="miter"/>
<polyline points="443.6,578.4 482.2,547.9" fill="none" stroke="#e8e128" stroke-width="12.5" stroke-linejoin="miter"/>
<polyline points="518,511 556,481" fill="none" stroke="#e8e128" stroke-width="12.5" stroke-linejoin="miter"/>
<polyline points="559,475.8 512,468.8" fill="none" stroke="#e8e128" stroke-width="12.5" stroke-linejoin="miter"/>
<polyline points="509,468.9 466,470.1" fill="none" stroke="#e8e128" stroke-width="12.5" stroke-linejoin="miter"/>
<polyline points="463,471.2 446.1,478.6 431,480.5" fill="none" stroke="#e8e128" stroke-width="12.5" stroke-linejoin="miter"/>
<polyline points="428,481 414.7,482.2 403,486" fill="none" stroke="#e8e128" stroke-width="12.5" stroke-linejoin="miter"/>
<polyline points="400.5,487.4 420,490 399.5,492.5 382,493" fill="none" stroke="#e8e128" stroke-width="12.5" stroke-linejoin="miter"/>
<polyline points="395.9,494.5 418,497 424,491 426,497 410,500" fill="none" stroke="#e8e128" stroke-width="12.5" stroke-linejoin="miter"/>
<polyline points="400,500 385.3,501.7 385.3,513" fill="none" stroke="#e8e128" stroke-width="12.5" stroke-linejoin="miter"/>
<polyline points="384,520 372,525.5 361,533.3" fill="none" stroke="#e8e128" stroke-width="12.5" stroke-linejoin="miter"/>
<polyline points="364,536 368.3,540.2" fill="none" stroke="#e8e128" stroke-width="12.5" stroke-linejoin="miter"/>
<polyline points="392,491 428,496" fill="none" stroke="#e8e128" stroke-width="12.5" stroke-linejoin="miter"/>
<polyline points="404,490 424,498" fill="none" stroke="#e8e128" stroke-width="18" />
<polyline points="157.5,737.9 157.5,726.6 166.4,726.2 186.5,717.8 204.1,700.9 225,690.9 270,670 315,647.5 360,621.8 401.8,600.9 443.6,578.4 482.2,547.9 520.7,507.7 561.2,476.2 510.6,468.9 466,470.1 446.1,478.6 414.7,482.2 400.5,487.4 399.5,492.5 378.4,492.5 395.9,494.5 412,496 403.2,499.4 385.3,501.7 385.3,517.7 372,525.5 361,533.3 368.3,540.2" fill="none" stroke="#12788f" stroke-width="2.8" stroke-linejoin="round" stroke-linecap="round"/>
<polyline points="131,747 138,750" fill="none" stroke="#e8e128" stroke-width="7.5" />
<polyline points="121,751 127,756" fill="none" stroke="#e8e128" stroke-width="7.5" />
<polyline points="112,758 118,763" fill="none" stroke="#e8e128" stroke-width="7.5" />
<polyline points="109,770 112,779" fill="none" stroke="#e8e128" stroke-width="7.5" />
<polyline points="133,778 139,780" fill="none" stroke="#e8e128" stroke-width="7.5" />
<polyline points="146,757 148,771" fill="none" stroke="#e8e128" stroke-width="7.5" />
<polyline points="113,776 118,780" fill="none" stroke="#e8e128" stroke-width="7.5" />
<polyline points="107,766.8 117,760.4 124,759" fill="none" stroke="#bd45b5" stroke-width="3.2" stroke-linecap="round"/>
<polyline points="141,760 148,763" fill="none" stroke="#bd45b5" stroke-width="3.2" stroke-linecap="round"/>
<polyline points="133,775.5 140,776" fill="none" stroke="#bd45b5" stroke-width="3.2" stroke-linecap="round"/>
<polyline points="110,773 111,777" fill="none" stroke="#bd45b5" stroke-width="3.2" stroke-linecap="round"/>
<polyline points="139.8,749.1 157.5,737.9" fill="none" stroke="#bd45b5" stroke-width="3.2" />
<circle cx="135.3" cy="762.9" r="10.6" fill="#5fc54a"/>
<circle cx="122.9" cy="773.5" r="10.8" fill="#5fc54a"/>
<path d="M133.8,1516.4 L133.8,1294.31 M194.6,1491.8 L194.6,1269.71 M255.4,1467.2 L255.4,1245.11 M316.2,1442.6 L316.2,1220.51 M73,1541 L316.2,1442.6 M73,1466.97 L316.2,1368.57 M73,1392.94 L316.2,1294.54 M73,1318.91 L316.2,1220.51 M364.48,1456.2 L364.48,1234.11 M412.76,1469.8 L412.76,1247.71 M461.04,1483.4 L461.04,1261.31 M509.32,1497 L509.32,1274.91 M557.6,1510.6 L557.6,1288.51 M605.88,1524.2 L605.88,1302.11 M316.2,1442.6 L605.88,1524.2 M316.2,1368.57 L605.88,1450.17 M316.2,1294.54 L605.88,1376.14 M316.2,1220.51 L605.88,1302.11 M133.8,1516.4 L423.48,1598 M194.6,1491.8 L484.28,1573.4 M255.4,1467.2 L545.08,1548.8 M121.28,1554.6 L364.48,1456.2 M169.56,1568.2 L412.76,1469.8 M217.84,1581.8 L461.04,1483.4 M266.12,1595.4 L509.32,1497 M314.4,1609 L557.6,1510.6" stroke="#dedede" stroke-width="1.1" fill="none"/>
<path d="M73,1541 L73,1318.91 M73,1541 L362.68,1622.6 M362.68,1622.6 L605.88,1524.2 M73,1541 L65.3,1538.8 M73,1466.97 L65.3,1464.77 M73,1392.94 L65.3,1390.74 M73,1318.91 L65.3,1316.71 M73,1541 L66,1543.8 M121.28,1554.6 L114.28,1557.4 M169.56,1568.2 L162.56,1571 M217.84,1581.8 L210.84,1584.6 M266.12,1595.4 L259.12,1598.2 M314.4,1609 L307.4,1611.8 M362.68,1622.6 L355.68,1625.4 M362.68,1622.6 L370.18,1624.7 M423.48,1598 L430.98,1600.1 M484.28,1573.4 L491.78,1575.5 M545.08,1548.8 L552.58,1550.9 M605.88,1524.2 L613.38,1526.3" stroke="#262626" stroke-width="1.3" fill="none"/>
<text x="41.14" y="1545.4" font-size="19" fill="#404040" >-2</text>
<text x="41.05" y="1471.37" font-size="19" fill="#404040" >-1</text>
<text x="47.22" y="1397.34" font-size="19" fill="#404040" >0</text>
<text x="47.41" y="1323.31" font-size="19" fill="#404040" >1</text>
<text x="45.4" y="1561.4" font-size="15.5" fill="#404040" >-1</text>
<text x="98.72" y="1575" font-size="15.5" fill="#404040" >0</text>
<text x="147.16" y="1588.6" font-size="15.5" fill="#404040" >1</text>
<text x="195.51" y="1602.2" font-size="15.5" fill="#404040" >2</text>
<text x="243.64" y="1615.8" font-size="15.5" fill="#404040" >3</text>
<text x="291.76" y="1629.4" font-size="15.5" fill="#404040" >4</text>
<text x="340.2" y="1643" font-size="15.5" fill="#404040" >5</text>
<text x="376.48" y="1642.6" font-size="15.5" fill="#404040" >-2</text>
<text x="437.28" y="1618" font-size="15.5" fill="#404040" >-1</text>
<text x="498.16" y="1593.4" font-size="15.5" fill="#404040" >0</text>
<text x="558.42" y="1568.8" font-size="15.5" fill="#404040" >1</text>
<text x="619.61" y="1544.2" font-size="15.5" fill="#404040" >2</text>
<text x="212.01" y="1643.6" font-size="33.67" fill="#404040" >PC 3</text>
<text x="461.81" y="1638.8" font-size="33.67" fill="#404040" >PC 5</text>
<text transform="translate(32.3,1450.15) rotate(-90)" x="0" y="0" font-size="33.1" fill="#404040">PC 6</text>
<text x="48.58" y="1078.7" font-size="50.5" fill="#000" >e</text>
<text x="185.63" y="1118.3" font-size="42.08" fill="#1e1e1e" >PC Trajectory</text>
<text x="148.26" y="1212.2" font-size="42.82" fill="#ff00ff" >CS-</text>
<text x="439.93" y="1212.2" font-size="41.49" fill="#12788f" >CS+</text>
<polyline points="260.7,1371.7 287.9,1384.4" fill="none" stroke="#ffff00" stroke-width="12" stroke-linejoin="miter"/>
<polyline points="291.5,1375.3 296,1400.6" fill="none" stroke="#ffff00" stroke-width="10" stroke-linejoin="miter"/>
<polyline points="296.9,1377.6 340.3,1391" fill="none" stroke="#ffff00" stroke-width="11" stroke-linejoin="miter"/>
<polyline points="316,1396 338,1398" fill="none" stroke="#ffff00" stroke-width="14" stroke-linejoin="miter"/>
<polyline points="340.3,1393 395.5,1417.4" fill="none" stroke="#ffff00" stroke-width="13" stroke-linejoin="miter"/>
<polyline points="298.7,1401 347.5,1419" fill="none" stroke="#ffff00" stroke-width="12" stroke-linejoin="miter"/>
<polyline points="401,1486 417,1486" fill="none" stroke="#ffff00" stroke-width="16" stroke-linejoin="miter"/>
<polyline points="422,1478 444,1499" fill="none" stroke="#ffff00" stroke-width="20" stroke-linejoin="miter"/>
<polyline points="420,1468 430,1468.5" fill="none" stroke="#ffff00" stroke-width="5.5" stroke-linejoin="miter"/>
<polyline points="435,1465 447,1465.2" fill="none" stroke="#ffff00" stroke-width="5.5" stroke-linejoin="miter"/>
<polyline points="450,1467 463,1473" fill="none" stroke="#ffff00" stroke-width="10" stroke-linejoin="miter"/>
<polyline points="466,1474 472,1487" fill="none" stroke="#ffff00" stroke-width="9" stroke-linejoin="miter"/>
<polyline points="470,1491 482,1496" fill="none" stroke="#ffff00" stroke-width="8" stroke-linejoin="miter"/>
<polyline points="483,1484 488,1487.5" fill="none" stroke="#ffff00" stroke-width="6" stroke-linejoin="miter"/>
<polyline points="131.5,1326.5 137,1327.5 140,1329 135,1330.5 131,1332 130.5,1337 132.5,1341 128.5,1344.5 133,1348 140,1347 145.5,1348 147,1351 150,1355.5 151.5,1361" fill="none" stroke="#12788f" stroke-width="5.5" stroke-linejoin="round" stroke-linecap="round"/>
<polyline points="132,1357 138,1356 141,1358 144,1362 146,1366 144,1369 141,1370 145,1374 148.5,1376" fill="none" stroke="#12788f" stroke-width="6" stroke-linejoin="round" stroke-linecap="round"/>
<polyline points="133,1336 136.5,1338 134,1343 138,1346" fill="none" stroke="#12788f" stroke-width="3.5" stroke-linejoin="round"/>
<polyline points="143.5,1379 150,1380.5" fill="none" stroke="#12788f" stroke-width="4" stroke-linecap="round"/>
<polyline points="152.2,1363 161.8,1358.2 172.7,1358.8 181.1,1363 187.1,1366.7 218.5,1377.5 230,1381.6 268,1401.5 343,1429.6 386,1446.1 448.7,1469.8 464.4,1475.9 476.4,1483.8 482.5,1488.6 500,1495.8 523.8,1505.8 529.6,1508 530.4,1500 522.4,1491.3 500,1481.3 487.3,1475.3 484.9,1472.3 476.4,1469.3 473.4,1467.5 475.2,1475.3 480,1486.2" fill="none" stroke="#12788f" stroke-width="3.4" stroke-linejoin="round"/>
<polyline points="387.8,1473.5 385.4,1478.3 390.8,1481.3 392,1485.6 398.1,1486.2 404.1,1495.8 416.2,1495.2 434.2,1503 445.1,1498.2 443.9,1489.2" fill="none" stroke="#12788f" stroke-width="3.2" stroke-linejoin="round"/>
<polyline points="422.2,1472.3 428.2,1469.9 436.7,1470.5 448,1470" fill="none" stroke="#12788f" stroke-width="3.2" stroke-linejoin="round"/>
<polyline points="202.8,1363 230,1373.1 270.7,1386.2 287.9,1394.3 301.4,1399.3 316.8,1407.9 342.1,1417.8 383.7,1429.6 468.5,1466.5 522.4,1486.2" fill="none" stroke="#ff00ff" stroke-width="3.6" stroke-linejoin="round"/>
<polyline points="237.2,1361.8 250.8,1373.1 259.8,1374.4 263,1372" fill="none" stroke="#ff00ff" stroke-width="3.6" stroke-linejoin="round"/>
<polyline points="358.4,1397.9 392.7,1413.3 416,1429.4 442.3,1433.7 472.8,1449 504.9,1469.4 522.4,1486.2" fill="none" stroke="#ff00ff" stroke-width="3.6" stroke-linejoin="round"/>
<polyline points="271.6,1377.1 287,1386.2" fill="none" stroke="#ff00ff" stroke-width="3.6" stroke-linecap="round"/>
<polyline points="293.3,1379.8 298.7,1384.4 316.8,1390.7" fill="none" stroke="#ff00ff" stroke-width="3.6" stroke-linecap="round"/>
<polyline points="172,1357 180,1360 186,1358 192,1361 200,1362" fill="none" stroke="#ff00ff" stroke-width="4.5" stroke-linejoin="round"/>
<polyline points="168,1366 175,1370 182,1366 188,1370 195,1372" fill="none" stroke="#ff00ff" stroke-width="4.5" stroke-linejoin="round"/>
<polyline points="168,1376 174,1380 182,1375 188,1380 198,1383" fill="none" stroke="#ff00ff" stroke-width="4.5" stroke-linejoin="round"/>
<polyline points="172,1384 180,1381 188,1384 196,1386" fill="none" stroke="#ff00ff" stroke-width="4.5" stroke-linejoin="round"/>
<polyline points="176,1372 184,1376 192,1377" fill="none" stroke="#ff00ff" stroke-width="4.5" stroke-linejoin="round"/>
<circle cx="160" cy="1375.7" r="11" fill="#00f000"/>
<circle cx="195.8" cy="1348" r="11.2" fill="#00f000"/>
</svg>
</body></html>
